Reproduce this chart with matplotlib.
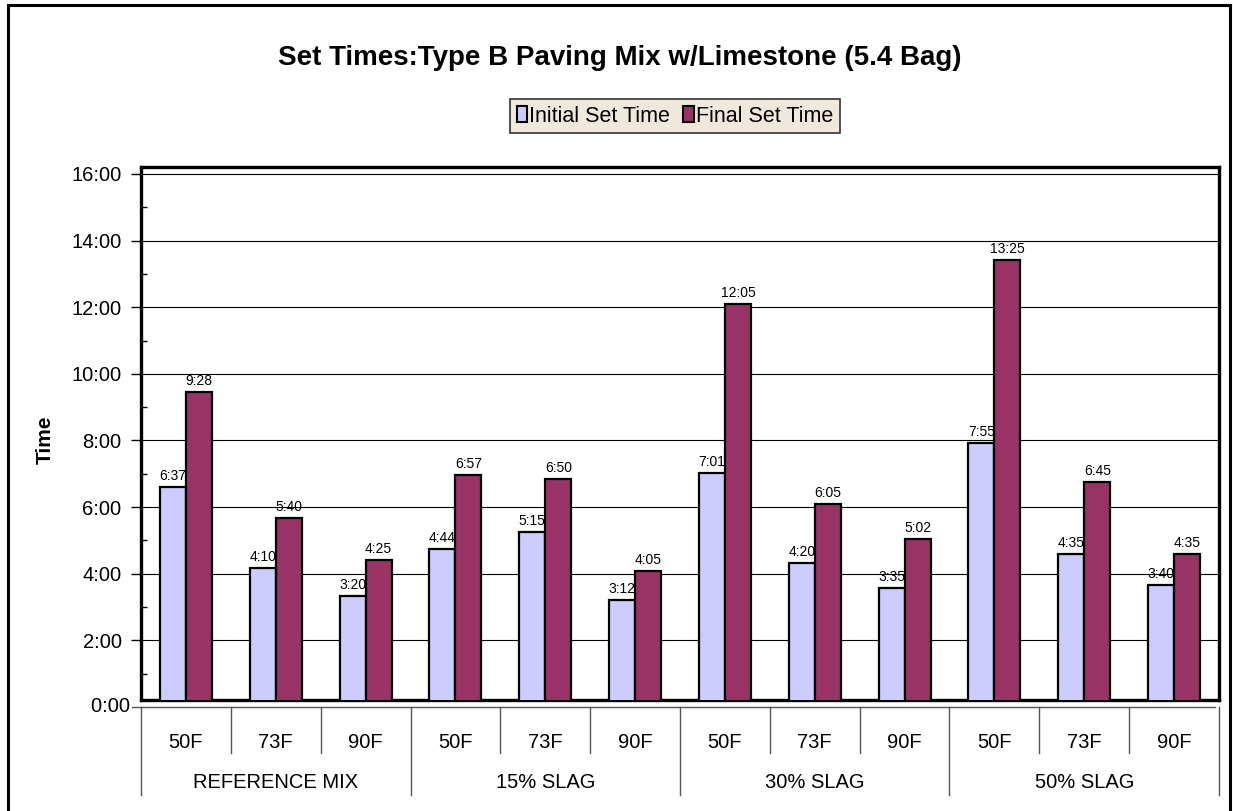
import matplotlib
matplotlib.use('Agg')
import matplotlib.pyplot as plt
from matplotlib.patches import Patch
from matplotlib.lines import Line2D
from matplotlib.ticker import MultipleLocator, FuncFormatter

plt.rcParams['font.family'] = ['Liberation Sans', 'DejaVu Sans']

temps = ['50F', '73F', '90F'] * 4
groups = ['REFERENCE MIX', '15% SLAG', '30% SLAG', '50% SLAG']
initial_set = ['6:37', '4:10', '3:20', '4:44', '5:15', '3:12',
               '7:01', '4:20', '3:35', '7:55', '4:35', '3:40']
final_set = ['9:28', '5:40', '4:25', '6:57', '6:50', '4:05',
             '12:05', '6:05', '5:02', '13:25', '6:45', '4:35']
y_ticks = list(range(0, 17, 2))


def to_hours(s):
    h, m = s.split(':')
    return int(h) + int(m) / 60


def fmt_time(v, pos=None):
    return '%d:00' % round(v)


init_h = [to_hours(s) for s in initial_set]
final_h = [to_hours(s) for s in final_set]

W, H = 1233, 811
fig = plt.figure(figsize=(W / 100, H / 100), dpi=100)
fig.patch.set_facecolor('white')

# outer chart border
for xs, ys in [([8 / W, 8 / W], [0, 1 - 5 / H]),
               ([8 / W, 1230 / W], [1 - 5 / H, 1 - 5 / H]),
               ([1230 / W, 1230 / W], [1 - 5 / H, 0])]:
    fig.add_artist(Line2D(xs, ys, color='black', lw=2.2))

ax = fig.add_axes([141 / W, 1 - 700 / H, 1078 / W, 533 / H])
ax.set_facecolor('white')

x = list(range(len(temps)))
bw = 0.29
ax.bar([i - bw / 2 for i in x], init_h, bw, color='#CCCCFF', edgecolor='black', lw=1.6, zorder=3)
ax.bar([i + bw / 2 for i in x], final_h, bw, color='#993366', edgecolor='black', lw=1.6, zorder=3)

for i in x:
    ax.text(i - bw / 2, init_h[i] + 0.12, initial_set[i], ha='center', va='bottom', fontsize=10, zorder=4)
    ax.text(i + bw / 2, final_h[i] + 0.12, final_set[i], ha='center', va='bottom', fontsize=10, zorder=4)

# value axis sits slightly below the plot frame
ax.set_xlim(-0.5, len(temps) - 0.5)
ax.set_ylim(0.21, 16.21)
ax.set_yticks(y_ticks[1:])
ax.yaxis.set_major_formatter(FuncFormatter(fmt_time))
ax.yaxis.set_minor_locator(MultipleLocator(1))
ax.tick_params(axis='y', which='major', direction='out', length=7, width=1, labelsize=14.5, pad=7)
ax.tick_params(axis='y', which='minor', direction='in', length=4, width=1)
ax.set_xticks([])
ax.grid(axis='y', color='black', lw=0.8, zorder=0)
for s in ax.spines.values():
    s.set_linewidth(2.4)

# zero label and tick drawn by hand, it lies under the frame
ax.text(-0.5, 0, fmt_time(0) + '  ', transform=ax.transData, ha='right', va='center',
        fontsize=14.5, clip_on=False)
ax.plot([-0.6, 11.45], [0, 0], color='#555555', lw=1, clip_on=False)

# two-level category axis
tr = ax.get_xaxis_transform()
y0 = -7 / 533
for b in [i + 0.5 for i in range(-1, 12)]:
    long_line = b in (-0.5, 2.5, 5.5, 8.5, 11.5)
    y1 = -95 / 533 if long_line else -53 / 533
    ax.plot([b, b], [y0, y1], color='#555555', lw=1, transform=tr, clip_on=False)
for i, t in enumerate(temps):
    ax.text(i, -43 / 533, t, transform=tr, ha='center', va='center', fontsize=14.5)
for g, name in enumerate(groups):
    ax.text(g * 3 + 1, -83 / 533, name, transform=tr, ha='center', va='center', fontsize=14.5)

fig.text(45 / W, 1 - 440 / H, 'Time', rotation=90, ha='center', va='center',
         fontsize=15, fontweight='bold')
fig.text(620 / W, 1 - 58 / H, 'Set Times:Type B Paving Mix w/Limestone (5.4 Bag)',
         ha='center', va='center', fontsize=20, fontweight='bold')

handles = [Patch(facecolor='#CCCCFF', edgecolor='black', lw=1.5),
           Patch(facecolor='#993366', edgecolor='black', lw=1.5)]
leg = fig.legend(handles, ['Initial Set Time', 'Final Set Time'], loc='center',
                 bbox_to_anchor=(675 / W, 1 - 116 / H), ncol=2, fontsize=15.5,
                 frameon=True, fancybox=False, shadow=False,
                 handlelength=0.5, handleheight=0.75, handletextpad=0.1,
                 columnspacing=0.6, borderpad=0.3, borderaxespad=0)
leg.get_frame().set_facecolor('#F0E8DA')
leg.get_frame().set_edgecolor('#333333')
leg.get_frame().set_linewidth(1.2)
leg.get_frame().set_alpha(1)

fig.savefig('out.png', dpi=100, facecolor='white')
